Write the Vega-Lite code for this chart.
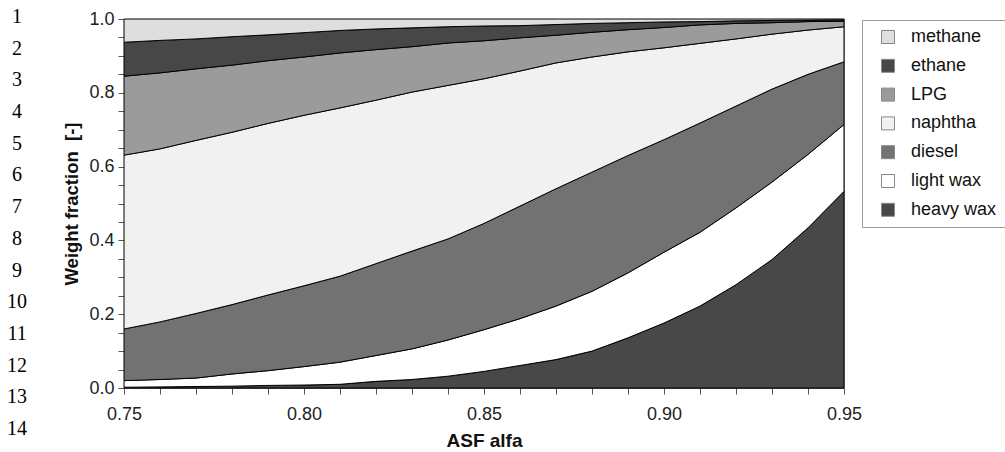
{
 "$schema": "https://vega.github.io/schema/vega-lite/v6.json",
 "padding": {"left": 0, "top": 7, "right": 0, "bottom": 0},
 "background": "white",
 "spacing": 90,
 "bounds": "flush",
 "config": {"font": "Liberation Sans", "view": {"stroke": null}},
 "datasets": {
  "lines": [{"line":1},{"line":2},{"line":3},{"line":4},{"line":5},{"line":6},{"line":7},{"line":8},{"line":9},{"line":10},{"line":11},{"line":12},{"line":13},{"line":14}],
  "fractions": [
   {"alfa":0.75,"product":"heavy wax","order":1,"fraction":0.002},{"alfa":0.75,"product":"light wax","order":2,"fraction":0.018},{"alfa":0.75,"product":"diesel","order":3,"fraction":0.140},{"alfa":0.75,"product":"naphtha","order":4,"fraction":0.471},{"alfa":0.75,"product":"LPG","order":5,"fraction":0.214},{"alfa":0.75,"product":"ethane","order":6,"fraction":0.092},{"alfa":0.75,"product":"methane","order":7,"fraction":0.063},
   {"alfa":0.76,"product":"heavy wax","order":1,"fraction":0.003},{"alfa":0.76,"product":"light wax","order":2,"fraction":0.020},{"alfa":0.76,"product":"diesel","order":3,"fraction":0.156},{"alfa":0.76,"product":"naphtha","order":4,"fraction":0.469},{"alfa":0.76,"product":"LPG","order":5,"fraction":0.206},{"alfa":0.76,"product":"ethane","order":6,"fraction":0.088},{"alfa":0.76,"product":"methane","order":7,"fraction":0.058},
   {"alfa":0.77,"product":"heavy wax","order":1,"fraction":0.004},{"alfa":0.77,"product":"light wax","order":2,"fraction":0.023},{"alfa":0.77,"product":"diesel","order":3,"fraction":0.175},{"alfa":0.77,"product":"naphtha","order":4,"fraction":0.469},{"alfa":0.77,"product":"LPG","order":5,"fraction":0.194},{"alfa":0.77,"product":"ethane","order":6,"fraction":0.081},{"alfa":0.77,"product":"methane","order":7,"fraction":0.054},
   {"alfa":0.78,"product":"heavy wax","order":1,"fraction":0.005},{"alfa":0.78,"product":"light wax","order":2,"fraction":0.033},{"alfa":0.78,"product":"diesel","order":3,"fraction":0.188},{"alfa":0.78,"product":"naphtha","order":4,"fraction":0.467},{"alfa":0.78,"product":"LPG","order":5,"fraction":0.182},{"alfa":0.78,"product":"ethane","order":6,"fraction":0.077},{"alfa":0.78,"product":"methane","order":7,"fraction":0.048},
   {"alfa":0.79,"product":"heavy wax","order":1,"fraction":0.007},{"alfa":0.79,"product":"light wax","order":2,"fraction":0.040},{"alfa":0.79,"product":"diesel","order":3,"fraction":0.205},{"alfa":0.79,"product":"naphtha","order":4,"fraction":0.465},{"alfa":0.79,"product":"LPG","order":5,"fraction":0.170},{"alfa":0.79,"product":"ethane","order":6,"fraction":0.070},{"alfa":0.79,"product":"methane","order":7,"fraction":0.043},
   {"alfa":0.80,"product":"heavy wax","order":1,"fraction":0.008},{"alfa":0.80,"product":"light wax","order":2,"fraction":0.050},{"alfa":0.80,"product":"diesel","order":3,"fraction":0.219},{"alfa":0.80,"product":"naphtha","order":4,"fraction":0.462},{"alfa":0.80,"product":"LPG","order":5,"fraction":0.158},{"alfa":0.80,"product":"ethane","order":6,"fraction":0.066},{"alfa":0.80,"product":"methane","order":7,"fraction":0.037},
   {"alfa":0.81,"product":"heavy wax","order":1,"fraction":0.010},{"alfa":0.81,"product":"light wax","order":2,"fraction":0.060},{"alfa":0.81,"product":"diesel","order":3,"fraction":0.233},{"alfa":0.81,"product":"naphtha","order":4,"fraction":0.456},{"alfa":0.81,"product":"LPG","order":5,"fraction":0.149},{"alfa":0.81,"product":"ethane","order":6,"fraction":0.061},{"alfa":0.81,"product":"methane","order":7,"fraction":0.031},
   {"alfa":0.82,"product":"heavy wax","order":1,"fraction":0.018},{"alfa":0.82,"product":"light wax","order":2,"fraction":0.070},{"alfa":0.82,"product":"diesel","order":3,"fraction":0.249},{"alfa":0.82,"product":"naphtha","order":4,"fraction":0.443},{"alfa":0.82,"product":"LPG","order":5,"fraction":0.137},{"alfa":0.82,"product":"ethane","order":6,"fraction":0.056},{"alfa":0.82,"product":"methane","order":7,"fraction":0.027},
   {"alfa":0.83,"product":"heavy wax","order":1,"fraction":0.023},{"alfa":0.83,"product":"light wax","order":2,"fraction":0.083},{"alfa":0.83,"product":"diesel","order":3,"fraction":0.265},{"alfa":0.83,"product":"naphtha","order":4,"fraction":0.431},{"alfa":0.83,"product":"LPG","order":5,"fraction":0.123},{"alfa":0.83,"product":"ethane","order":6,"fraction":0.051},{"alfa":0.83,"product":"methane","order":7,"fraction":0.024},
   {"alfa":0.84,"product":"heavy wax","order":1,"fraction":0.032},{"alfa":0.84,"product":"light wax","order":2,"fraction":0.098},{"alfa":0.84,"product":"diesel","order":3,"fraction":0.274},{"alfa":0.84,"product":"naphtha","order":4,"fraction":0.416},{"alfa":0.84,"product":"LPG","order":5,"fraction":0.115},{"alfa":0.84,"product":"ethane","order":6,"fraction":0.044},{"alfa":0.84,"product":"methane","order":7,"fraction":0.021},
   {"alfa":0.85,"product":"heavy wax","order":1,"fraction":0.045},{"alfa":0.85,"product":"light wax","order":2,"fraction":0.113},{"alfa":0.85,"product":"diesel","order":3,"fraction":0.288},{"alfa":0.85,"product":"naphtha","order":4,"fraction":0.392},{"alfa":0.85,"product":"LPG","order":5,"fraction":0.103},{"alfa":0.85,"product":"ethane","order":6,"fraction":0.040},{"alfa":0.85,"product":"methane","order":7,"fraction":0.019},
   {"alfa":0.86,"product":"heavy wax","order":1,"fraction":0.061},{"alfa":0.86,"product":"light wax","order":2,"fraction":0.127},{"alfa":0.86,"product":"diesel","order":3,"fraction":0.305},{"alfa":0.86,"product":"naphtha","order":4,"fraction":0.366},{"alfa":0.86,"product":"LPG","order":5,"fraction":0.090},{"alfa":0.86,"product":"ethane","order":6,"fraction":0.033},{"alfa":0.86,"product":"methane","order":7,"fraction":0.018},
   {"alfa":0.87,"product":"heavy wax","order":1,"fraction":0.077},{"alfa":0.87,"product":"light wax","order":2,"fraction":0.145},{"alfa":0.87,"product":"diesel","order":3,"fraction":0.318},{"alfa":0.87,"product":"naphtha","order":4,"fraction":0.341},{"alfa":0.87,"product":"LPG","order":5,"fraction":0.075},{"alfa":0.87,"product":"ethane","order":6,"fraction":0.029},{"alfa":0.87,"product":"methane","order":7,"fraction":0.015},
   {"alfa":0.88,"product":"heavy wax","order":1,"fraction":0.100},{"alfa":0.88,"product":"light wax","order":2,"fraction":0.162},{"alfa":0.88,"product":"diesel","order":3,"fraction":0.323},{"alfa":0.88,"product":"naphtha","order":4,"fraction":0.312},{"alfa":0.88,"product":"LPG","order":5,"fraction":0.067},{"alfa":0.88,"product":"ethane","order":6,"fraction":0.024},{"alfa":0.88,"product":"methane","order":7,"fraction":0.012},
   {"alfa":0.89,"product":"heavy wax","order":1,"fraction":0.136},{"alfa":0.89,"product":"light wax","order":2,"fraction":0.176},{"alfa":0.89,"product":"diesel","order":3,"fraction":0.318},{"alfa":0.89,"product":"naphtha","order":4,"fraction":0.281},{"alfa":0.89,"product":"LPG","order":5,"fraction":0.060},{"alfa":0.89,"product":"ethane","order":6,"fraction":0.019},{"alfa":0.89,"product":"methane","order":7,"fraction":0.010},
   {"alfa":0.90,"product":"heavy wax","order":1,"fraction":0.176},{"alfa":0.90,"product":"light wax","order":2,"fraction":0.192},{"alfa":0.90,"product":"diesel","order":3,"fraction":0.305},{"alfa":0.90,"product":"naphtha","order":4,"fraction":0.249},{"alfa":0.90,"product":"LPG","order":5,"fraction":0.055},{"alfa":0.90,"product":"ethane","order":6,"fraction":0.015},{"alfa":0.90,"product":"methane","order":7,"fraction":0.008},
   {"alfa":0.91,"product":"heavy wax","order":1,"fraction":0.222},{"alfa":0.91,"product":"light wax","order":2,"fraction":0.200},{"alfa":0.91,"product":"diesel","order":3,"fraction":0.296},{"alfa":0.91,"product":"naphtha","order":4,"fraction":0.216},{"alfa":0.91,"product":"LPG","order":5,"fraction":0.050},{"alfa":0.91,"product":"ethane","order":6,"fraction":0.009},{"alfa":0.91,"product":"methane","order":7,"fraction":0.007},
   {"alfa":0.92,"product":"heavy wax","order":1,"fraction":0.280},{"alfa":0.92,"product":"light wax","order":2,"fraction":0.208},{"alfa":0.92,"product":"diesel","order":3,"fraction":0.276},{"alfa":0.92,"product":"naphtha","order":4,"fraction":0.182},{"alfa":0.92,"product":"LPG","order":5,"fraction":0.042},{"alfa":0.92,"product":"ethane","order":6,"fraction":0.007},{"alfa":0.92,"product":"methane","order":7,"fraction":0.005},
   {"alfa":0.93,"product":"heavy wax","order":1,"fraction":0.348},{"alfa":0.93,"product":"light wax","order":2,"fraction":0.210},{"alfa":0.93,"product":"diesel","order":3,"fraction":0.252},{"alfa":0.93,"product":"naphtha","order":4,"fraction":0.149},{"alfa":0.93,"product":"LPG","order":5,"fraction":0.031},{"alfa":0.93,"product":"ethane","order":6,"fraction":0.006},{"alfa":0.93,"product":"methane","order":7,"fraction":0.004},
   {"alfa":0.94,"product":"heavy wax","order":1,"fraction":0.434},{"alfa":0.94,"product":"light wax","order":2,"fraction":0.199},{"alfa":0.94,"product":"diesel","order":3,"fraction":0.217},{"alfa":0.94,"product":"naphtha","order":4,"fraction":0.120},{"alfa":0.94,"product":"LPG","order":5,"fraction":0.023},{"alfa":0.94,"product":"ethane","order":6,"fraction":0.004},{"alfa":0.94,"product":"methane","order":7,"fraction":0.003},
   {"alfa":0.95,"product":"heavy wax","order":1,"fraction":0.533},{"alfa":0.95,"product":"light wax","order":2,"fraction":0.181},{"alfa":0.95,"product":"diesel","order":3,"fraction":0.170},{"alfa":0.95,"product":"naphtha","order":4,"fraction":0.095},{"alfa":0.95,"product":"LPG","order":5,"fraction":0.015},{"alfa":0.95,"product":"ethane","order":6,"fraction":0.004},{"alfa":0.95,"product":"methane","order":7,"fraction":0.002}
  ]
 },
 "hconcat": [
  {
   "width": 34,
   "height": 412,
   "data": {"name": "lines"},
   "mark": {"type": "text", "font": "Liberation Serif", "fontSize": 20, "baseline": "middle", "align": "center", "color": "#000"},
   "encoding": {
    "y": {"field": "line", "type": "quantitative", "scale": {"domain": [1.063, 14.063], "reverse": true, "nice": false, "zero": false}, "axis": null},
    "text": {"field": "line", "type": "nominal"}
   }
  },
  {
   "width": 720,
   "height": 369,
   "view": {"stroke": "#8c8c8c", "strokeWidth": 1},
   "data": {"name": "fractions"},
   "mark": {"type": "area", "stroke": "#000", "strokeWidth": 1, "interpolate": "linear", "opacity": 1},
   "encoding": {
    "x": {
     "field": "alfa", "type": "quantitative",
     "scale": {"domain": [0.75, 0.95], "nice": false, "zero": false},
     "axis": {
      "values": [0.75,0.76,0.77,0.78,0.79,0.8,0.81,0.82,0.83,0.84,0.85,0.86,0.87,0.88,0.89,0.9,0.91,0.92,0.93,0.94,0.95],
      "labelExpr": "abs(datum.value*20 - round(datum.value*20)) < 0.001 ? format(datum.value, '.2f') : ''",
      "labelOverlap": false, "labelFlush": false, "labelFontSize": 18, "labelColor": "#222", "labelPadding": 11,
      "tickSize": 6, "tickColor": "#555", "domainColor": "#555", "grid": false,
      "title": "ASF alfa", "titleFontSize": 19, "titleFontWeight": "bold", "titleColor": "#111", "titlePadding": 8
     }
    },
    "y": {
     "field": "fraction", "type": "quantitative", "stack": "zero",
     "scale": {"domain": [0, 1], "nice": false},
     "axis": {
      "values": [0,0.05,0.1,0.15,0.2,0.25,0.3,0.35,0.4,0.45,0.5,0.55,0.6,0.65,0.7,0.75,0.8,0.85,0.9,0.95,1],
      "labelExpr": "abs(datum.value*5 - round(datum.value*5)) < 0.001 ? format(datum.value, '.1f') : ''",
      "labelOverlap": false, "labelFlush": false, "labelFontSize": 18, "labelColor": "#222", "labelPadding": 4,
      "tickSize": 6, "tickColor": "#555", "domainColor": "#555", "grid": false,
      "title": "Weight fraction\u00a0 [-]", "titleFontSize": 18.5, "titleFontWeight": "bold", "titleColor": "#111", "titlePadding": 7
     }
    },
    "color": {
     "field": "product", "type": "nominal",
     "scale": {"domain": ["methane","ethane","LPG","naphtha","diesel","light wax","heavy wax"], "range": ["#dedede","#474747","#9b9b9b","#f1f1f1","#727272","#ffffff","#484848"]},
     "legend": {
      "title": null, "orient": "none", "legendX": 862, "legendY": 1,
      "symbolType": "square", "symbolSize": 169, "symbolOffset": 9, "symbolStrokeColor": "#888", "symbolStrokeWidth": 1, "symbolOpacity": 1,
      "labelFontSize": 18, "labelColor": "#111", "labelOffset": 14, "rowPadding": 10.8,
      "padding": 8, "strokeColor": "#999", "fillColor": "#fff",
      "encode": {"symbols": {"update": {"stroke": {"value": "#888"}, "strokeWidth": {"value": 1}}}}
     }
    },
    "order": {"field": "order", "type": "quantitative"}
   }
  }
 ]
}
